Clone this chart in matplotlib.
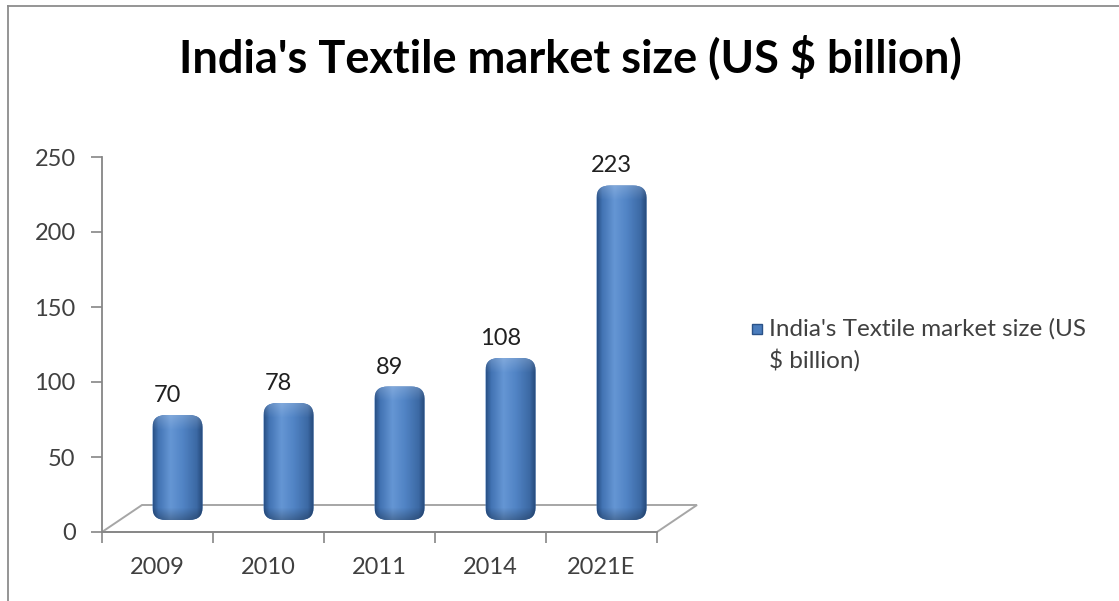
import numpy as np
import matplotlib.pyplot as plt
import matplotlib.transforms as mtransforms
from matplotlib.patches import FancyBboxPatch, Polygon, Rectangle
from matplotlib.lines import Line2D
from matplotlib.colors import to_rgb

years = ['2009', '2010', '2011', '2014', '2021E']
market_size = [70, 78, 89, 108, 223]
y_ticks = [0, 50, 100, 150, 200, 250]
series_name = "India's Textile market size (US\n$ billion)"
title = "India's Textile market size (US $ billion)"

W, H = 1119, 601
FONT = ['Lato', 'DejaVu Sans']
GRID_GRAY = '#A6A6A6'
AXIS_GRAY = '#868686'
TEXT_GRAY = '#404040'

# 3D look: floor depth and bar offset in pixels
DEPTH = (40, 27)
BAR_SHIFT = (20, 12)
BAR_W = 0.45

plt.rcParams['font.family'] = FONT

fig = plt.figure(figsize=(W / 100, H / 100), dpi=100)
ax = fig.add_axes([102 / W, 69 / H, 555 / W, 375 / H])
ax.set_facecolor('none')

n = len(years)
x = np.arange(n)
xlim = (-0.5, n - 0.5)
ylim = (0, 250)
px_x = 555 / n
px_y = 375 / (ylim[1] - ylim[0])

# floor parallelogram
dx, dy = DEPTH[0] / px_x, DEPTH[1] / px_y
floor = Polygon([(xlim[0], 0), (xlim[1], 0), (xlim[1] + dx, dy), (xlim[0] + dx, dy)],
                closed=True, facecolor='white', edgecolor=GRID_GRAY, lw=1.4,
                zorder=1, clip_on=False)
ax.add_patch(floor)


def cylinder_shade(h_px):
    # horizontal shading across the cylinder, lighter cap / darker foot
    stops = [0.0, 0.1, 0.35, 0.6, 0.88, 1.0]
    cols = np.array([to_rgb(c) for c in
                     ['#2A5288', '#4273B3', '#6596D4', '#5184C5', '#3C69A4', '#25497A']])
    t = np.linspace(0, 1, 60)
    row = np.stack([np.interp(t, stops, cols[:, k]) for k in range(3)], axis=1)
    rows = max(int(h_px), 2)
    img = np.repeat(row[None, :, :], rows, axis=0)
    d = np.arange(rows)
    top = np.clip(1 - d / 14.0, 0, 1)[:, None, None]
    bot = np.clip(1 - (rows - 1 - d) / 12.0, 0, 1)[:, None, None]
    img = img + (1 - img) * 0.18 * top
    img = img * (1 - 0.25 * bot)
    return np.clip(img, 0, 1)


shift = mtransforms.offset_copy(ax.transData, fig=fig, x=BAR_SHIFT[0], y=BAR_SHIFT[1],
                                units='dots')
r_x = 0.12
aspect = (12 / px_y) / r_x
for i, v in zip(x, market_size):
    body = FancyBboxPatch((i - BAR_W / 2, 0), BAR_W, v,
                          boxstyle='round,pad=0,rounding_size=%.3f' % r_x,
                          mutation_aspect=aspect, transform=shift,
                          facecolor='#4A7CBC', edgecolor='none', zorder=3)
    ax.add_patch(body)
    im = ax.imshow(cylinder_shade(v * px_y), extent=(i - BAR_W / 2, i + BAR_W / 2, 0, v),
                   transform=shift, aspect='auto', interpolation='bilinear', zorder=4)
    im.set_clip_path(body)
    ax.annotate(str(v), (i, v), xytext=(BAR_SHIFT[0] - 10, BAR_SHIFT[1] + 9),
                textcoords='offset pixels', ha='center', va='bottom',
                fontsize=17, color='#202020', zorder=5)

ax.set_xlim(*xlim)
ax.set_ylim(*ylim)

for side in ('top', 'right'):
    ax.spines[side].set_visible(False)
for side in ('left', 'bottom'):
    ax.spines[side].set_color(AXIS_GRAY)
    ax.spines[side].set_linewidth(1.3)
    ax.spines[side].set_zorder(2)

ax.set_yticks(y_ticks)
ax.tick_params(axis='y', length=8, width=1.2, color=AXIS_GRAY, pad=11,
               labelsize=17, labelcolor=TEXT_GRAY)
ax.set_xticks(np.arange(n + 1) - 0.5)
ax.set_xticklabels([])
ax.tick_params(axis='x', which='major', length=8, width=1.2, color=AXIS_GRAY)
ax.set_xticks(x, minor=True)
ax.set_xticklabels(years, minor=True)
ax.tick_params(axis='x', which='minor', length=0, pad=18,
               labelsize=17, labelcolor=TEXT_GRAY)

fig.text(570 / W, 1 - 73 / H, title, ha='center', va='baseline',
         fontsize=32.5, fontweight='bold', color='black')

# legend
fig.add_artist(Rectangle((752 / W, 1 - 334 / H), 10 / W, 10 / H, transform=fig.transFigure,
                         facecolor='#4A7CBC', edgecolor='#2A5288', lw=1))
fig.text(769 / W, 1 - 368 / H, series_name, ha='left', va='baseline',
         fontsize=17.5, color=TEXT_GRAY, linespacing=1.5)

# chart frame
fig.add_artist(Line2D([8 / W, 8 / W], [0, 1 - 6 / H], color='#8C8C8C', lw=1.3))
fig.add_artist(Line2D([8 / W, 1], [1 - 6 / H, 1 - 6 / H], color='#8C8C8C', lw=1.3))

fig.savefig('out.png', dpi=100)
